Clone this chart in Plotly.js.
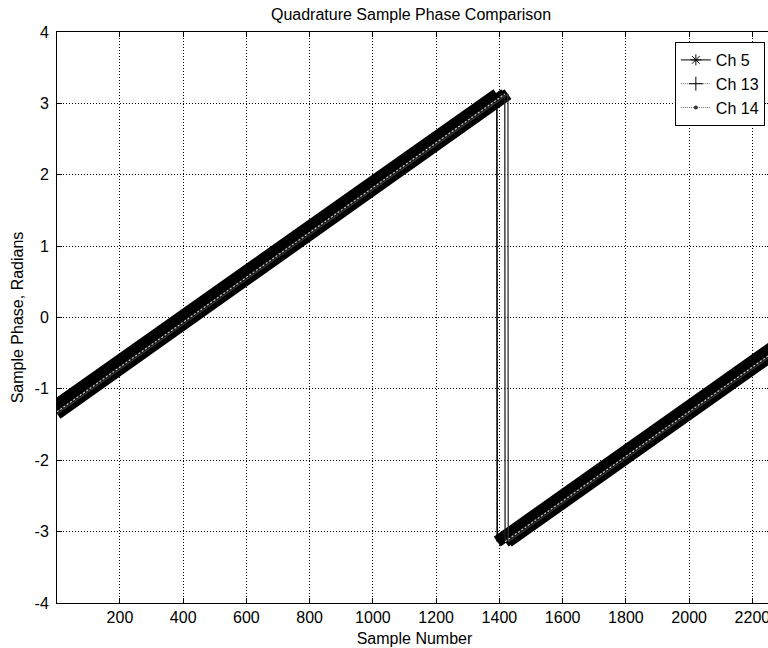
<!DOCTYPE html>
<html>
<head>
<meta charset="utf-8">
<script src="https://cdn.plot.ly/plotly-3.0.1.min.js"></script>
<style>
html,body{margin:0;padding:0;background:#fff;overflow:hidden;}
#chart{width:780px;height:648px;}
</style>
</head>
<body>
<div id="chart"></div>
<script>
// Vertices: start, last point before wrap, first point after wrap, end
const ch5X  = [1, 1392, 1393, 2262];
const ch5Y  = [-1.22, 3.13, -3.14, -0.42];
const ch13X = [1, 1417, 1418, 2262];
const ch13Y = [-1.32, 3.13, -3.14, -0.50];
const ch14X = [1, 1427, 1428, 2262];
const ch14Y = [-1.35, 3.13, -3.14, -0.53];

const seriesNames = ['Ch 5', 'Ch 13', 'Ch 14'];
const xTicks = [200, 400, 600, 800, 1000, 1200, 1400, 1600, 1800, 2000, 2200];
const yTicks = [-4, -3, -2, -1, 0, 1, 2, 3, 4];
const yTickText = ['-4', '-3', '-2', '-1', '0', '1', '2', '3', '4'];

const chans = [[ch5X, ch5Y], [ch13X, ch13Y], [ch14X, ch14Y]];
const thinColors = ['#000000', '#222222', '#333333'];

function split(xs, ys) {
  return {x: [xs[0], xs[1], null, xs[2], xs[3]], y: [ys[0], ys[1], null, ys[2], ys[3]]};
}

const traces = [];
// thick marker bands
chans.forEach(([xs, ys]) => {
  const s = split(xs, ys);
  traces.push({x: s.x, y: s.y, mode: 'lines', showlegend: false, hoverinfo: 'skip',
    line: {color: '#000', width: 12}});
});
// thin connecting lines (incl. wrap verticals)
chans.forEach(([xs, ys], i) => {
  traces.push({x: xs, y: ys, mode: 'lines', showlegend: false, hoverinfo: 'skip',
    line: {color: thinColors[i], width: i === 0 ? 1.6 : 1.3}});
});
// light centre line in band
{
  const s = split(ch13X, ch13Y);
  traces.push({x: s.x, y: s.y, mode: 'lines', showlegend: false, hoverinfo: 'skip',
    line: {color: '#c8c8c8', width: 1.2, dash: '2px,2px'}});
}
// legend entries
traces.push({x: [null], y: [null], name: seriesNames[0], mode: 'lines+markers',
  line: {color: '#000', width: 1}, marker: {symbol: 'asterisk-open', size: 9, color: '#000', line: {color: '#000', width: 1}}});
traces.push({x: [null], y: [null], name: seriesNames[1], mode: 'lines+markers',
  line: {color: '#666', width: 1, dash: '1px,1px'}, marker: {symbol: 'cross-thin-open', size: 10, color: '#000', line: {color: '#000', width: 1}}});
traces.push({x: [null], y: [null], name: seriesNames[2], mode: 'lines+markers',
  line: {color: '#666', width: 1, dash: '1px,1px'}, marker: {symbol: 'circle', size: 4, color: '#333'}});

const font = {family: 'Liberation Sans, Arial, sans-serif', size: 16, color: '#000'};

const layout = {
  width: 780, height: 648,
  margin: {l: 57, r: 8, t: 32, b: 45, pad: 0},
  paper_bgcolor: '#fff', plot_bgcolor: '#fff',
  font: font,
  title: {text: 'Quadrature Sample Phase Comparison', font: font, x: 0.527, xanchor: 'center', y: 0.978, yanchor: 'middle'},
  showlegend: true,
  legend: {x: 0.990, xanchor: 'right', y: 0.9825, yanchor: 'top', bgcolor: '#fff',
    bordercolor: '#000', borderwidth: 1, font: font, tracegroupgap: 0},
  xaxis: {
    range: [1, 2262], tickvals: xTicks, ticktext: xTicks.map(String),
    ticks: 'inside', ticklen: 5, tickcolor: '#000', tickwidth: 1,
    showline: true, linecolor: '#000', linewidth: 1, mirror: 'ticks',
    showgrid: true, gridcolor: '#000', gridwidth: 1, griddash: '1px,2px',
    zeroline: false, tickfont: font,
    title: {text: 'Sample Number', font: font, standoff: 7},
    automargin: false
  },
  yaxis: {
    range: [-4, 4], tickvals: yTicks, ticktext: yTickText,
    ticks: 'inside', ticklen: 5, tickcolor: '#000', tickwidth: 1,
    showline: true, linecolor: '#000', linewidth: 1, mirror: 'ticks',
    showgrid: true, gridcolor: '#000', gridwidth: 1, griddash: '1px,2px',
    zeroline: false, tickfont: font, ticklabelstandoff: 4,
    title: {text: 'Sample Phase, Radians', font: font, standoff: 6},
    automargin: false
  }
};

Plotly.newPlot('chart', traces, layout, {displayModeBar: false, staticPlot: true});
</script>
</body>
</html>
